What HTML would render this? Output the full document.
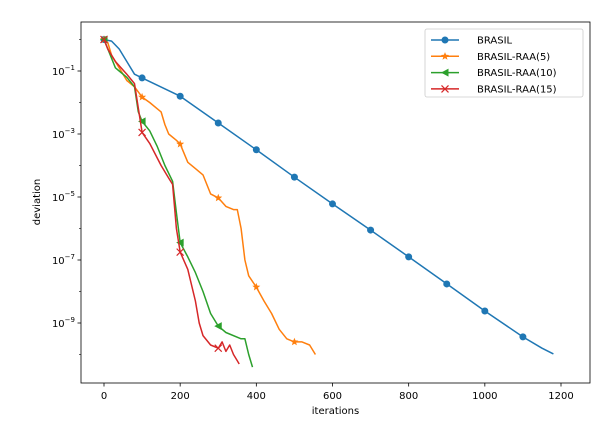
<!DOCTYPE html>
<html><head><meta charset="utf-8"><style>
body{margin:0;background:#fff;}
svg{font-family:"DejaVu Sans","Liberation Sans",sans-serif;}
</style></head><body>
<svg id="c" width="605" height="435" viewBox="0 0 605 435"></svg>
<script>
const xTicks=[0,200,400,600,800,1000,1200];
const yTicks=[-1,-3,-5,-7,-9];
const seriesNames=["BRASIL","BRASIL-RAA(5)","BRASIL-RAA(10)","BRASIL-RAA(15)"];
const brasilX=[0,20,40,60,80,100,200,300,400,500,600,700,800,900,1000,1100,1150,1180];
const brasilY=[0,-0.05,-0.3,-0.7,-1.1,-1.22,-1.8,-2.65,-3.5,-4.37,-5.22,-6.05,-6.9,-7.76,-8.62,-9.44,-9.8,-9.98];
const raa5X=[0,10,20,40,60,80,100,120,140,150,160,170,190,200,220,240,260,270,280,300,320,340,350,360,370,380,400,420,440,460,480,500,520,540,550,555];
const raa5Y=[0,-0.1,-0.5,-0.9,-1.3,-1.5,-1.83,-2.0,-2.2,-2.3,-2.7,-3.0,-3.2,-3.32,-3.9,-4.1,-4.3,-4.6,-4.9,-5.03,-5.3,-5.4,-5.4,-6.0,-7.0,-7.5,-7.86,-8.3,-8.7,-9.2,-9.5,-9.6,-9.6,-9.7,-9.9,-10.0];
const raa10X=[0,20,30,40,60,80,90,100,120,140,160,180,190,200,220,240,260,280,300,320,360,370,380,390];
const raa10Y=[0,-0.6,-0.9,-1.0,-1.2,-1.5,-2.3,-2.6,-2.9,-3.4,-4.0,-4.5,-5.5,-6.45,-6.9,-7.4,-8.0,-8.7,-9.1,-9.3,-9.5,-9.5,-10.0,-10.4];
const raa15X=[0,10,30,60,80,100,120,150,170,180,190,200,220,240,250,260,280,300,310,320,330,340,350,355];
const raa15Y=[0,-0.3,-0.7,-1.1,-1.4,-2.95,-3.3,-4.0,-4.4,-4.6,-6.0,-6.75,-7.3,-8.3,-9.0,-9.4,-9.7,-9.8,-9.6,-9.9,-9.7,-10.0,-10.2,-10.3];
const markEvery=[100,100,100,100];
const colors=["#1f77b4","#ff7f0e","#2ca02c","#d62728"];
const L=81,R=590,T=22,B=383;
const sx=v=>104+v*(457/1200);
const sy=v=>39.5-v*31.5;
const svg=document.getElementById('c');
const NS="http://www.w3.org/2000/svg";
function mk(t,a,p){const e=document.createElementNS(NS,t);for(const k in a)e.setAttribute(k,a[k]);(p||svg).appendChild(e);return e;}
// axes frame
const fr=mk('rect',{x:L,y:T,width:R-L,height:B-T,fill:'none',stroke:'#000','stroke-width':0.8});


xTicks.forEach(v=>{
  const x=sx(v);
  const t=mk('line',{x1:x,x2:x,y1:B,y2:B+3.5,stroke:'#000','stroke-width':0.8});
  
  
  const l=mk('text',{x:x,y:B+16,'font-size':10,'text-anchor':'middle'});
  l.textContent=v;
  
  
});
yTicks.forEach(v=>{
  const y=sy(v);
  const t=mk('line',{x1:L-3.5,x2:L,y1:y,y2:y,stroke:'#000','stroke-width':0.8});
  
  
  const l=mk('text',{x:L-6,y:y+4,'font-size':10,'text-anchor':'end'});
  l.innerHTML='10<tspan dy="-5" font-size="7">\u2212'+(-v)+'</tspan>';
  
  
});
// minor y ticks
for(let d=0;d>=-11;d--){const y=sy(d);if(y>T&&y<B&&d%2===0){const m=mk('line',{x1:L-2,x2:L,y1:y,y2:y,stroke:'#000','stroke-width':0.6});}}
const xt=mk('text',{x:(L+R)/2,y:414,'font-size':10,'text-anchor':'middle'});xt.textContent='iterations';


const yt=mk('text',{x:0,y:0,'font-size':10,'text-anchor':'middle',transform:'translate(40,202) rotate(-90)'});yt.textContent='deviation';


function marker(kind,x,y,c,g){
  if(kind===0)return mk('circle',{cx:x,cy:y,r:3.5,fill:c},g);
  if(kind===1){let p=[];for(let i=0;i<10;i++){const r=i%2?1.8:4.2,a=-Math.PI/2+i*Math.PI/5;p.push((x+r*Math.cos(a)).toFixed(1)+','+(y+r*Math.sin(a)).toFixed(1));}return mk('polygon',{points:p.join(' '),fill:c},g);}
  if(kind===2)return mk('polygon',{points:`${x-4},${y} ${x+3.5},${y-4} ${x+3.5},${y+4}`,fill:c},g);
  return mk('path',{d:`M${x-3.5},${y-3.5}L${x+3.5},${y+3.5}M${x-3.5},${y+3.5}L${x+3.5},${y-3.5}`,stroke:c,'stroke-width':1.2,fill:'none'},g);
}
const data=[[brasilX,brasilY],[raa5X,raa5Y],[raa10X,raa10Y],[raa15X,raa15Y]];
const names=['series-brasil','series-raa5','series-raa10','series-raa15'];
data.forEach(([xs,ys],k)=>{
  const g=mk('g',{});
  
  
  const pts=xs.map((x,i)=>sx(x).toFixed(1)+','+sy(ys[i]).toFixed(1)).join(' ');
  const pl=mk('polyline',{points:pts,fill:'none',stroke:colors[k],'stroke-width':1.5,'stroke-linejoin':'round'},g);
  
  
  xs.forEach((x,i)=>{if(x%markEvery[k]===0){const m=marker(k,sx(x),sy(ys[i]),colors[k],g);}});
});
// legend
const lg=mk('g',{});


mk('rect',{x:425,y:29,width:158,height:68,rx:2,fill:'#fff',stroke:'#ccc','stroke-width':0.8},lg);
seriesNames.forEach((n,k)=>{
  const y=40+k*16.3;
  const e=mk('g',{},lg);
  
  
  mk('line',{x1:431,x2:459,y1:y,y2:y,stroke:colors[k],'stroke-width':1.5},e);
  marker(k,445,y,colors[k],e);
  const t=mk('text',{x:477,y:y+3.5,'font-size':10},e);t.textContent=n;
});
</script>
</body></html>
